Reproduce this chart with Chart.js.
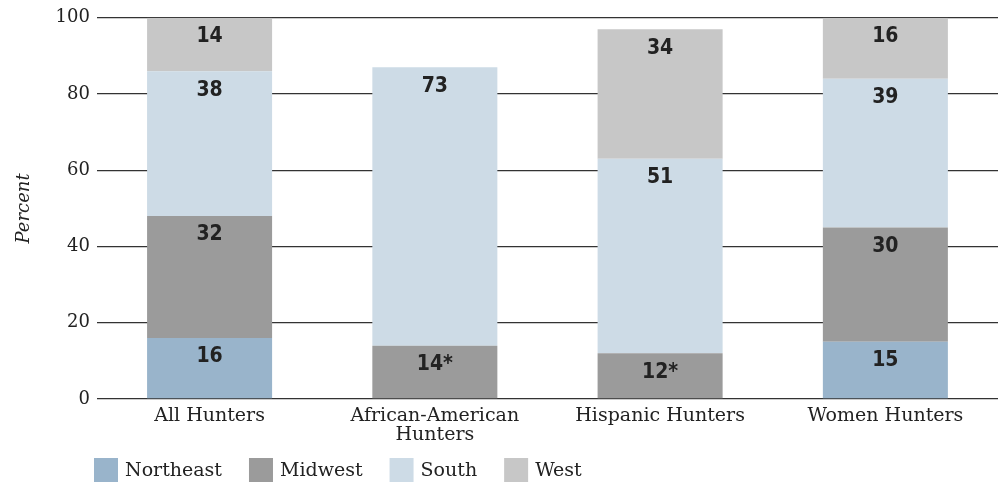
<!DOCTYPE html>
<html>
<head>
<meta charset="utf-8">
<script src="https://cdn.jsdelivr.net/npm/chart.js@4"></script>
<style>
  html, body { margin: 0; padding: 0; background: #fff; }
  #wrap { width: 1003px; height: 487px; position: relative; }
</style>
</head>
<body>
<div id="wrap"><canvas id="hunters"></canvas></div>
<script>
// data
const categories = ["All Hunters", ["African-American", "Hunters"], "Hispanic Hunters", "Women Hunters"];
const regions = ["Northeast", "Midwest", "South", "West"];
const northeast = [16, null, null, 15];
const midwest = [32, 14, 12, 30];
const south = [38, 73, 51, 39];
const west = [14, null, 34, 16];
// labels shown in the bars (asterisk = small sample)
const midwestLabels = ["32", "14*", "12*", "30"];
const yTicks = [0, 20, 40, 60, 80, 100];

const colors = ["#99b4cb", "#9b9b9b", "#cddbe6", "#c7c7c7"];
const serif = "'DejaVu Serif', 'Liberation Serif', serif";
const narrow = "'Liberation Sans Narrow', 'DejaVu Sans Condensed', Roboto, sans-serif";

// draws the value near the top of each segment
const segmentLabels = {
  id: "segmentLabels",
  afterDatasetsDraw(chart) {
    const ctx = chart.ctx;
    ctx.save();
    ctx.font = "bold 21px " + narrow;
    ctx.fillStyle = "#222";
    ctx.textAlign = "center";
    ctx.textBaseline = "middle";
    chart.data.datasets.forEach((ds, di) => {
      const meta = chart.getDatasetMeta(di);
      meta.data.forEach((bar, i) => {
        const v = ds.data[i];
        if (v == null) return;
        const txt = ds.labelsText ? ds.labelsText[i] : String(v);
        ctx.fillText(txt, bar.x, bar.y + 19);
      });
    });
    ctx.restore();
  }
};

// legend row along the bottom, left aligned under the axis labels
const bottomLegend = {
  id: "bottomLegend",
  afterDraw(chart) {
    const ctx = chart.ctx;
    ctx.save();
    ctx.font = "19px " + serif;
    ctx.textBaseline = "middle";
    ctx.textAlign = "left";
    let x = 94;
    const y = 470;
    chart.data.datasets.forEach(ds => {
      ctx.fillStyle = ds.backgroundColor;
      ctx.fillRect(x, y - 12, 24, 24);
      ctx.fillStyle = "#222";
      ctx.fillText(ds.label, x + 31, y + 1);
      x += 31 + ctx.measureText(ds.label).width + 27;
    });
    ctx.restore();
  }
};

new Chart(document.getElementById("hunters"), {
  type: "bar",
  data: {
    labels: categories,
    datasets: [
      { label: regions[0], data: northeast, backgroundColor: colors[0] },
      { label: regions[1], data: midwest, backgroundColor: colors[1], labelsText: midwestLabels },
      { label: regions[2], data: south, backgroundColor: colors[2] },
      { label: regions[3], data: west, backgroundColor: colors[3] },
    ]
  },
  options: {
    responsive: true,
    maintainAspectRatio: false,
    animation: false,
    layout: { padding: { top: 6, right: 5, left: 0, bottom: 42 } },
    datasets: {
      bar: { categoryPercentage: 1, barPercentage: 0.555, borderWidth: 0 }
    },
    scales: {
      x: {
        stacked: true,
        grid: { display: false },
        border: { display: false },
        ticks: {
          color: "#222",
          padding: 0,
          maxRotation: 0,
          font: { family: serif, size: 19, lineHeight: 1 }
        }
      },
      y: {
        stacked: true,
        min: 0,
        max: 100,
        afterBuildTicks(axis) { axis.ticks = yTicks.map(v => ({ value: v })); },
        grid: { color: "#333", lineWidth: 1.3, drawTicks: false },
        border: { display: false },
        ticks: {
          color: "#222",
          padding: 7,
          font: { family: serif, size: 18 }
        },
        title: {
          display: true,
          text: "Percent",
          color: "#222",
          padding: { top: 14, bottom: 13 },
          font: { family: serif, size: 18, style: "italic" }
        }
      }
    },
    plugins: {
      legend: { display: false },
      tooltip: { enabled: false }
    }
  },
  plugins: [segmentLabels, bottomLegend]
});
</script>
</body>
</html>
